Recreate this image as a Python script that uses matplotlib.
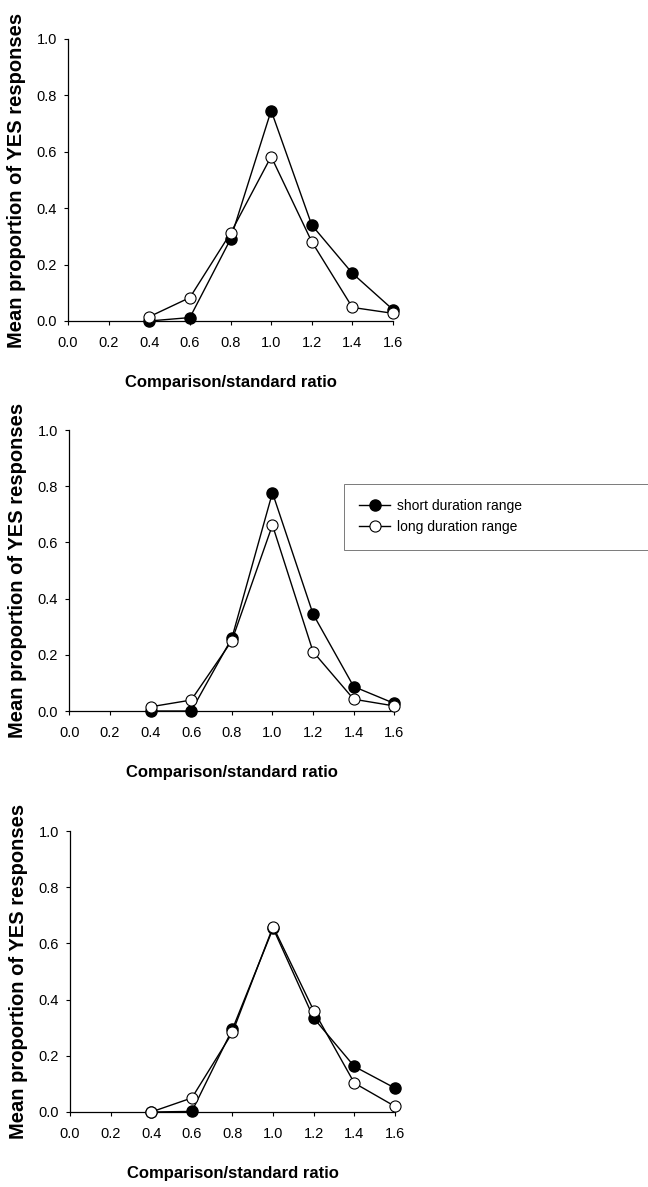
import matplotlib
matplotlib.use('Agg')
import matplotlib.pyplot as plt

plt.rcParams['font.family'] = ['Liberation Sans', 'DejaVu Sans']

ratio = [0.4, 0.6, 0.8, 1.0, 1.2, 1.4, 1.6]

# panel 1
short_1 = [0.0, 0.012, 0.29, 0.746, 0.34, 0.169, 0.04]
long_1 = [0.015, 0.083, 0.311, 0.583, 0.281, 0.048, 0.027]
# panel 2
short_2 = [0.0, 0.0, 0.259, 0.777, 0.345, 0.087, 0.027]
long_2 = [0.015, 0.039, 0.25, 0.662, 0.211, 0.042, 0.018]
# panel 3
short_3 = [0.0, 0.002, 0.295, 0.654, 0.334, 0.162, 0.085]
long_3 = [0.0, 0.05, 0.283, 0.66, 0.361, 0.103, 0.02]

xticks = [0.0, 0.2, 0.4, 0.6, 0.8, 1.0, 1.2, 1.4, 1.6]
yticks = [0.0, 0.2, 0.4, 0.6, 0.8, 1.0]

fig = plt.figure(figsize=(6.48, 11.87), dpi=100)

# axes rectangles (figure fractions)
rects = [[0.105, 0.7296, 0.5015, 0.2376],
         [0.107, 0.4010, 0.5015, 0.2367],
         [0.108, 0.0632, 0.5015, 0.2367]]
data = [(short_1, long_1), (short_2, long_2), (short_3, long_3)]

for i, (r, (s, l)) in enumerate(zip(rects, data)):
    ax = fig.add_axes(r)
    ax.plot(ratio, s, '-o', color='black', lw=1.0, ms=8,
            mfc='black', mec='black', clip_on=False, zorder=3,
            label='short duration range')
    ax.plot(ratio, l, '-o', color='black', lw=1.0, ms=8,
            mfc='white', mec='black', mew=0.8, clip_on=False, zorder=4,
            label='long duration range')
    ax.set_xlim(0, 1.6)
    ax.set_ylim(0, 1.0)
    ax.set_xticks(xticks)
    ax.set_yticks(yticks)
    ax.set_xticklabels(['%.1f' % t for t in xticks])
    ax.set_yticklabels(['%.1f' % t for t in yticks])
    ax.spines['top'].set_visible(False)
    ax.spines['right'].set_visible(False)
    ax.spines['left'].set_linewidth(0.9)
    ax.spines['bottom'].set_linewidth(0.9)
    ax.tick_params(direction='out', length=3, width=0.8, labelsize=10.5)
    ax.tick_params(axis='x', pad=8)
    ax.tick_params(axis='y', pad=5)
    ax.set_xlabel('Comparison/standard ratio', fontsize=12, fontweight='bold')
    ax.xaxis.set_label_coords(0.5, -0.192)
    ax.set_ylabel('Mean proportion of YES responses', fontsize=14.5,
                  fontweight='bold')
    ax.yaxis.set_label_coords(-0.13, 0.5)
    if i == 1:
        leg = ax.legend(loc='upper left',
                        bbox_to_anchor=(344 / 648, 1 - 484 / 1187, 0.5, 0.0),
                        bbox_transform=fig.transFigure, mode='expand',
                        frameon=True, fancybox=False, fontsize=10,
                        handlelength=2.2, handletextpad=0.5,
                        borderaxespad=0, borderpad=1.1, labelspacing=0.5)
        leg.get_frame().set_edgecolor('0.35')
        leg.get_frame().set_linewidth(0.7)

plt.savefig('out.png', dpi=100)
